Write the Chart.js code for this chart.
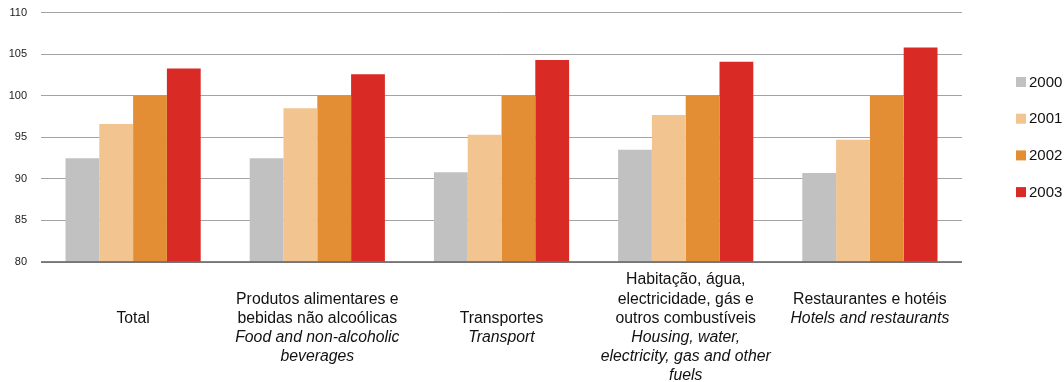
<!DOCTYPE html>
<html>
<head>
<meta charset="utf-8">
<script src="https://cdn.jsdelivr.net/npm/chart.js@4.4.1/dist/chart.umd.min.js"></script>
<style>
  html, body { margin: 0; padding: 0; background: #ffffff; }
  #wrap { width: 1064px; height: 382px; }
</style>
</head>
<body>
<div id="wrap"><canvas id="chart" width="1064" height="382"></canvas></div>
<script>
// Category names: Portuguese lines, then English (italic) lines
const categoriesPT = [
  ["Total"],
  ["Produtos alimentares e", "bebidas não alcoólicas"],
  ["Transportes"],
  ["Habitação, água,", "electricidade, gás e", "outros combustíveis"],
  ["Restaurantes e hotéis"]
];
const categoriesEN = [
  [],
  ["Food and non-alcoholic", "beverages"],
  ["Transport"],
  ["Housing, water,", "electricity, gas and other", "fuels"],
  ["Hotels and restaurants"]
];

const years = ["2000", "2001", "2002", "2003"];
const values2000 = [92.5, 92.5, 90.8, 93.5, 90.7];
const values2001 = [96.6, 98.5, 95.3, 97.7, 94.7];
const values2002 = [100.0, 100.0, 100.0, 100.0, 100.0];
const values2003 = [103.3, 102.6, 104.3, 104.1, 105.8];

const yTicks = [80, 85, 90, 95, 100, 105, 110];

const colors = ["#c1c1c1", "#f2c490", "#e38d35", "#d92a26"];
const FONT = "'Liberation Sans', Arial, sans-serif";

// first text row used by each category label (rows are stacked under the axis)
const labelStartRow = [2, 1, 2, 0, 1];

const categoryLabelPlugin = {
  id: 'categoryLabels',
  afterDraw(chart) {
    const ctx = chart.ctx;
    const x = chart.scales.x;
    const top = chart.chartArea.bottom;
    const rowH = 19.2;
    const firstRowY = top + 18;
    ctx.save();
    ctx.fillStyle = '#111';
    ctx.textAlign = 'center';
    ctx.textBaseline = 'middle';
    categoriesPT.forEach((pt, i) => {
      const cx = x.getPixelForValue(i);
      let row = labelStartRow[i];
      ctx.font = "15.8px " + FONT;
      pt.forEach(line => { ctx.fillText(line, cx, firstRowY + row * rowH); row++; });
      ctx.font = "italic 15.8px " + FONT;
      categoriesEN[i].forEach(line => { ctx.fillText(line, cx, firstRowY + row * rowH); row++; });
    });
    ctx.restore();
  }
};

const legendPlugin = {
  id: 'sideLegend',
  afterDraw(chart) {
    const ctx = chart.ctx;
    const x0 = 1016, y0 = 77, step = 36.7, box = 10;
    ctx.save();
    ctx.font = "15px " + FONT;
    ctx.textBaseline = 'middle';
    ctx.textAlign = 'left';
    chart.data.datasets.forEach((ds, i) => {
      const y = y0 + i * step;
      ctx.fillStyle = ds.backgroundColor;
      ctx.fillRect(x0, y, box, box);
      ctx.fillStyle = '#111';
      ctx.fillText(ds.label, x0 + 13, y + box / 2 + 0.5);
    });
    ctx.restore();
  }
};

const baselinePlugin = {
  id: 'baseline',
  afterDatasetsDraw(chart) {
    const ctx = chart.ctx;
    const a = chart.chartArea;
    const y = chart.scales.y.getPixelForValue(80);
    ctx.save();
    ctx.strokeStyle = 'rgba(110,110,110,0.85)';
    ctx.lineWidth = 2;
    ctx.beginPath();
    ctx.moveTo(a.left, y);
    ctx.lineTo(a.right, y);
    ctx.stroke();
    ctx.restore();
  }
};

const seriesValues = [values2000, values2001, values2002, values2003];

new Chart(document.getElementById('chart'), {
  type: 'bar',
  data: {
    labels: categoriesPT.map(l => l.join(' ')),
    datasets: years.map((y, i) => ({
      label: y,
      data: seriesValues[i],
      backgroundColor: colors[i],
      borderWidth: 0,
      categoryPercentage: 0.734,
      barPercentage: 1.0
    }))
  },
  options: {
    responsive: false,
    animation: false,
    devicePixelRatio: 1,
    layout: { padding: { left: 0, right: 102, top: 12.7, bottom: 120 } },
    plugins: {
      legend: { display: false },
      tooltip: { enabled: false }
    },
    scales: {
      x: {
        grid: { display: false },
        border: { display: false },
        ticks: { display: false },
        afterFit(scale) { scale.height = 0; }
      },
      y: {
        min: 80,
        max: 110,
        afterBuildTicks(scale) { scale.ticks = yTicks.map(v => ({ value: v })); },
        afterFit(scale) {
          scale.width = 41;
          scale.paddingTop = 0;
          scale.paddingBottom = 0;
        },
        border: { display: false },
        grid: {
          color: '#a3a3a3',
          lineWidth: 1,
          drawTicks: false
        },
        ticks: {
          padding: 14,
          color: '#222',
          font: { family: FONT, size: 11 }
        }
      }
    }
  },
  plugins: [categoryLabelPlugin, legendPlugin, baselinePlugin]
});
</script>
</body>
</html>
